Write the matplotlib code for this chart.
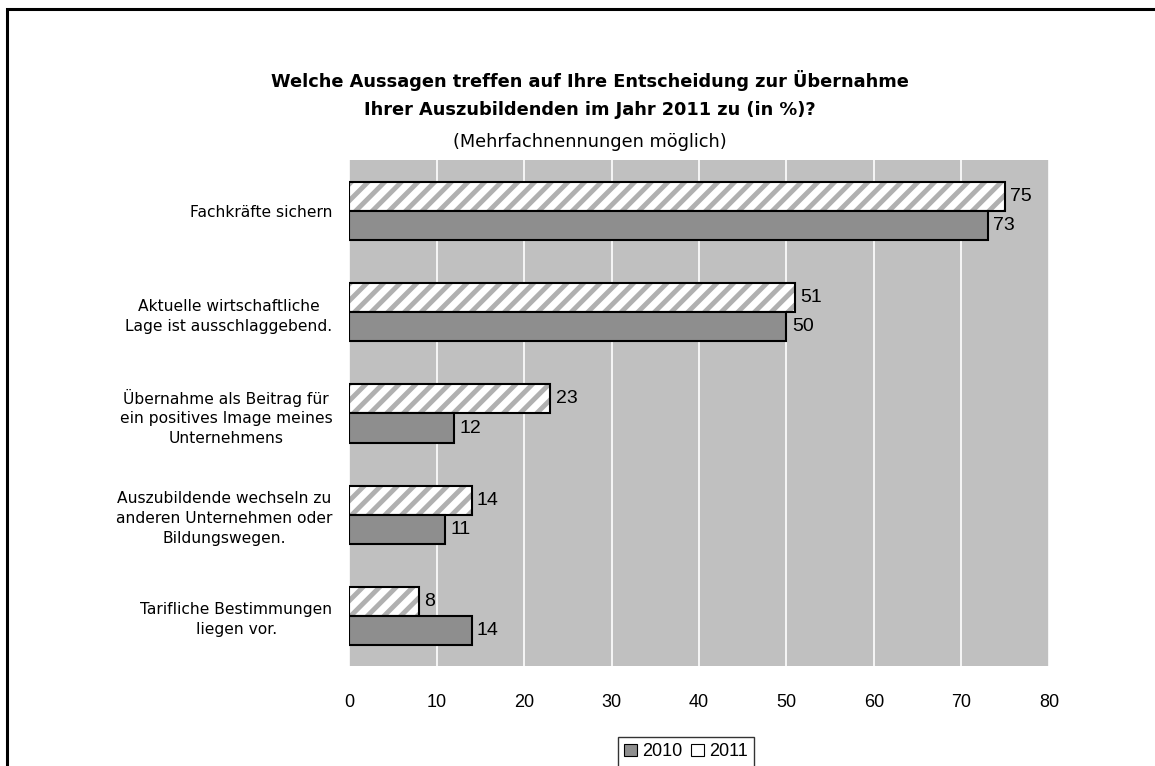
import matplotlib.pyplot as plt
import matplotlib as mpl
import numpy as np
from matplotlib.patches import Rectangle, Patch

# data
categories = [
    'Fachkräfte sichern',
    'Aktuelle wirtschaftliche\nLage ist ausschlaggebend.',
    'Übernahme als Beitrag für\nein positives Image meines\nUnternehmens',
    'Auszubildende wechseln zu\nanderen Unternehmen oder\nBildungswegen.',
    'Tarifliche Bestimmungen\nliegen vor.',
]
values_2010 = [73, 50, 12, 11, 14]
values_2011 = [75, 51, 23, 14, 8]
xticks = [0, 10, 20, 30, 40, 50, 60, 70, 80]

mpl.rcParams['hatch.linewidth'] = 3.5

fig = plt.figure(figsize=(11.55, 7.66), dpi=100)
ax = fig.add_axes([0.3022, 0.1299, 0.606, 0.6606])
ax.set_facecolor('#c0c0c0')

y = np.arange(len(categories))
h = 0.287

# 2011: white with grey diagonal stripes (upper bar)
ax.barh(y - h / 2, values_2011, height=h, facecolor='white', hatch='//',
        edgecolor='#b0b0b0', linewidth=0, zorder=3)
ax.barh(y - h / 2, values_2011, height=h, facecolor='none',
        edgecolor='black', linewidth=1.5, zorder=4)

# 2010: dotted mid grey (lower bar)
ax.barh(y + h / 2, values_2010, height=h, facecolor='#8e8e8e',
        edgecolor='black', linewidth=1.5, zorder=4)

for i in range(len(categories)):
    ax.text(values_2011[i] + 0.6, y[i] - h / 2, str(values_2011[i]),
            va='center', ha='left', fontsize=14, family='Liberation Sans')
    ax.text(values_2010[i] + 0.6, y[i] + h / 2, str(values_2010[i]),
            va='center', ha='left', fontsize=14, family='Liberation Sans')

ax.set_xlim(0, 80)
ax.set_ylim(len(categories) - 0.5, -0.5)
ax.set_xticks(xticks)
ax.set_xticklabels([str(t) for t in xticks], family='Liberation Sans', fontsize=13)
ax.set_yticks(y)
ax.set_yticklabels(categories, family='DejaVu Sans', fontsize=11.2, linespacing=1.4,
                   multialignment='center')
ax.tick_params(axis='both', length=0)
ax.tick_params(axis='x', pad=20)
ax.tick_params(axis='y', pad=12)
ax.grid(axis='x', color='white', linewidth=1.2, zorder=1)
ax.set_axisbelow(True)
for s in ax.spines.values():
    s.set_visible(False)

# titles
fig.text(0.511, 0.895, 'Welche Aussagen treffen auf Ihre Entscheidung zur Übernahme',
         ha='center', va='center', fontsize=12.8, fontweight='bold', family='DejaVu Sans')
fig.text(0.511, 0.856, 'Ihrer Auszubildenden im Jahr 2011 zu (in %)?',
         ha='center', va='center', fontsize=12.8, fontweight='bold', family='DejaVu Sans')
fig.text(0.511, 0.815, '(Mehrfachnennungen möglich)',
         ha='center', va='center', fontsize=12.8, family='DejaVu Sans')

# legend
handles = [Patch(facecolor='#8e8e8e', edgecolor='black', linewidth=0.8),
           Patch(facecolor='white', edgecolor='black', linewidth=0.8)]
leg = fig.legend(handles, ['2010', '2011'], loc='center', bbox_to_anchor=(0.594, 0.0185),
                 ncol=2, frameon=True, fancybox=False, edgecolor='black',
                 prop={'family': 'Liberation Sans', 'size': 13},
                 handlelength=0.7, handleheight=0.7, handletextpad=0.3,
                 columnspacing=0.5, borderpad=0.35)
leg.get_frame().set_linewidth(1.0)

# outer frame
fig.patches.append(Rectangle((7 / 1155, -0.1), 1.2, 1 - 9 / 766 + 0.1,
                             transform=fig.transFigure, fill=False,
                             edgecolor='black', linewidth=2.2))

fig.savefig('out.png', dpi=100)
